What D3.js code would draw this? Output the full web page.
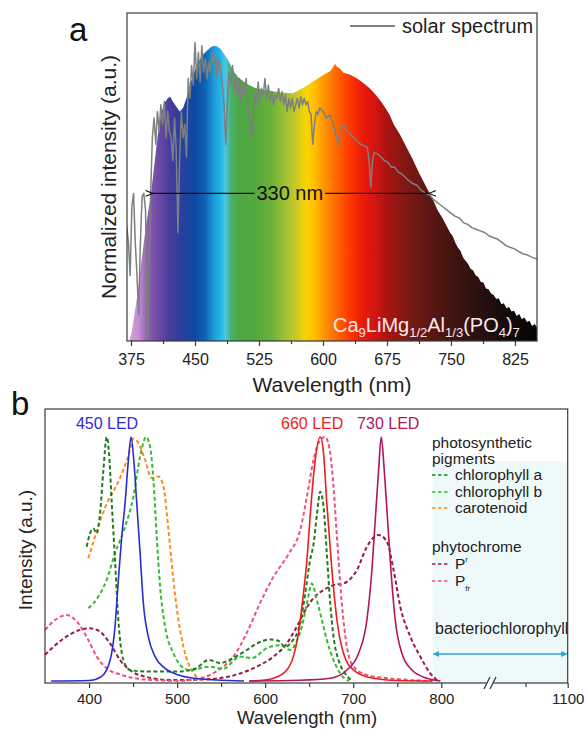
<!DOCTYPE html>
<html><head><meta charset="utf-8">
<script src="https://cdn.jsdelivr.net/npm/d3@7"></script>
<style>
body{margin:0;background:#fff}
svg{display:block}
text{font-family:"Liberation Sans",Arial,Helvetica,sans-serif}
</style>
</head><body>
<svg id="chart" width="587" height="729"></svg>
<script>
// ---------------- Panel a data ----------------
const ticksA = [375,450,525,600,675,750,825];
const minorTicksA = [412.5,487.5,562.5,637.5,712.5,787.5];
// phosphor emission (nm, normalized intensity)
const emission = [[373,0],[376,0.03],[379,0.08],[383,0.15],[388,0.26],[393,0.36],[398,0.44],[402,0.53],[406,0.62],[410,0.69],[414,0.725],[418,0.74],[421,0.745],[424,0.73],[428,0.715],[432,0.70],[436,0.71],[440,0.74],[444,0.78],[448,0.81],[452,0.84],[456,0.86],[460,0.875],[464,0.885],[468,0.895],[472,0.90],[476,0.898],[480,0.89],[484,0.875],[488,0.86],[492,0.84],[496,0.82],[500,0.805],[505,0.795],[510,0.785],[515,0.778],[520,0.772],[530,0.766],[540,0.762],[550,0.758],[560,0.756],[565,0.755],[570,0.762],[577,0.772],[585,0.785],[592,0.797],[600,0.81],[608,0.822],[612,0.835],[614,0.845],[616,0.838],[620,0.83],[624,0.818],[632,0.812],[640,0.80],[648,0.785],[655,0.77],[662,0.75],[668,0.73],[672,0.715],[678,0.69],[683,0.66],[690,0.63],[698,0.59],[705,0.555],[713,0.51],[720,0.475],[729,0.43],[734,0.40],[740,0.375],[743,0.36],[746,0.345],[749,0.33],[752,0.32],[755,0.30],[758,0.285],[761,0.275],[764,0.255],[767,0.245],[770,0.235],[773,0.22],[776,0.215],[779,0.2],[782,0.195],[785,0.18],[788,0.178],[791,0.16],[794,0.158],[797,0.145],[800,0.14],[803,0.128],[806,0.13],[809,0.112],[812,0.115],[815,0.1],[818,0.104],[821,0.09],[824,0.092],[827,0.076],[830,0.082],[833,0.066],[836,0.072],[839,0.058],[842,0.062],[845,0.046],[848,0.052],[851,0.04]];
// solar spectrum (nm, normalized intensity)
const solar = [[370,0.35],[372,0.30],[374,0.20],[376,0.41],[378,0.45],[380,0.30],[382,0.20],[384,0.08],[386,0.30],[388,0.44],[390,0.45],[392,0.40],[394,0.05],[395,0.01],[396,0.20],[398,0.45],[400,0.62],[402,0.68],[404,0.60],[406,0.70],[408,0.64],[410,0.72],[412,0.66],[414,0.73],[416,0.62],[418,0.70],[420,0.64],[422,0.62],[424,0.55],[426,0.68],[428,0.58],[430,0.33],[432,0.55],[434,0.70],[436,0.62],[438,0.66],[440,0.56],[442,0.80],[444,0.74],[446,0.84],[448,0.78],[450,0.91],[452,0.80],[454,0.88],[456,0.79],[458,0.90],[460,0.82],[462,0.86],[464,0.80],[466,0.85],[468,0.82],[470,0.88],[472,0.84],[474,0.87],[476,0.80],[478,0.86],[480,0.83],[482,0.78],[484,0.72],[486,0.60],[488,0.74],[490,0.82],[492,0.78],[494,0.84],[496,0.76],[498,0.81],[500,0.74],[502,0.80],[504,0.72],[506,0.78],[508,0.75],[510,0.80],[512,0.72],[514,0.66],[516,0.62],[518,0.68],[520,0.76],[522,0.72],[524,0.79],[526,0.73],[528,0.77],[530,0.75],[532,0.80],[534,0.74],[536,0.78],[538,0.73],[540,0.76],[542,0.72],[544,0.75],[546,0.74],[548,0.77],[550,0.73],[552,0.76],[554,0.72],[556,0.75],[558,0.70],[560,0.74],[562,0.71],[564,0.74],[566,0.70],[568,0.72],[570,0.74],[572,0.71],[574,0.745],[576,0.72],[578,0.74],[580,0.72],[582,0.73],[584,0.70],[586,0.69],[588,0.60],[590,0.66],[592,0.70],[594,0.69],[596,0.71],[600,0.70],[604,0.68],[608,0.69],[612,0.66],[616,0.62],[618,0.60],[620,0.65],[624,0.66],[628,0.64],[632,0.63],[636,0.62],[640,0.61],[644,0.60],[648,0.595],[652,0.59],[654,0.55],[656,0.47],[658,0.55],[660,0.575],[664,0.57],[668,0.56],[672,0.55],[676,0.545],[680,0.53],[684,0.53],[688,0.515],[692,0.51],[696,0.50],[700,0.49],[705,0.48],[710,0.475],[715,0.46],[720,0.45],[725,0.445],[730,0.43],[735,0.42],[740,0.41],[745,0.40],[750,0.39],[755,0.38],[760,0.375],[765,0.36],[770,0.355],[775,0.345],[780,0.34],[785,0.335],[790,0.33],[795,0.32],[800,0.315],[805,0.31],[810,0.30],[815,0.29],[820,0.285],[825,0.28],[830,0.272],[835,0.265],[840,0.262],[845,0.255],[851,0.25]];
const fwhmNm = [399.5, 725];
const fwhmLevel = 0.45;
// colour of the emission fill along the wavelength axis
const spectrumStops = [[372,'#d8a0dc'],[385,'#c08ad0'],[395,'#8e5cb0'],[408,'#6a4aa6'],[420,'#4a3c9c'],[435,'#283f9e'],[450,'#0c4aa2'],[462,'#1262b4'],[472,'#1e9ad8'],[480,'#22b6ea'],[486,'#52c4e0'],[492,'#48b070'],[500,'#4ca844'],[520,'#52a83e'],[540,'#6eb23a'],[555,'#9cc034'],[568,'#c8c828'],[580,'#fad400'],[590,'#ffc000'],[600,'#ff9800'],[615,'#ff6a00'],[630,'#ff3c00'],[645,'#ee1c0a'],[660,'#d41410'],[675,'#aa1412'],[695,'#821814'],[720,'#621814'],[750,'#421410'],[790,'#241010'],[820,'#120a0a'],[851,'#050505']];

// ---------------- Panel b data ----------------
const ticksB = [400,500,600,700,800,1100];
const minorTicksB = [450,550,650,750,1000];
const led450 = [[357,0],[400,0.002],[414,0.018],[424,0.086],[429.5,0.223],[433.3,0.414],[437.1,0.59],[440.9,0.728],[444.7,0.906],[447.7,1.0],[450.8,0.906],[454.2,0.728],[458,0.523],[461.7,0.318],[467.4,0.18],[475,0.1],[486.4,0.052],[501.5,0.025],[520.5,0.011],[545,0.004],[576,0]];
const led660 = [[582,0],[600,0.004],[609.4,0.011],[624.6,0.045],[632,0.1],[637.8,0.195],[643.5,0.36],[647.4,0.496],[652,0.72],[656.8,0.906],[662.5,1.0],[666.3,0.933],[670,0.728],[675.8,0.455],[681.5,0.25],[689,0.113],[700.4,0.045],[723,0.011],[750,0.002],[790,0]];
const led730 = [[582,0],[640,0.003],[673.9,0.011],[692.8,0.045],[706,0.113],[715.5,0.25],[721.2,0.455],[725,0.66],[728.8,0.865],[731.8,1.0],[735.2,0.865],[739,0.66],[742.8,0.455],[747.7,0.25],[755.3,0.113],[766.7,0.045],[783.7,0.011],[799,0]];
const chlA = [[397.3,0.55],[401.1,0.605],[404.9,0.625],[408.7,0.605],[412.5,0.687],[416.3,0.865],[420.1,1.0],[422.7,0.933],[425.8,0.728],[429.5,0.496],[433.3,0.25],[439,0.086],[446.6,0.045],[463.6,0.039],[501.5,0.039],[520.5,0.05],[535.6,0.086],[549,0.074],[563.6,0.094],[579,0.127],[590.6,0.154],[605.7,0.17],[615,0.165],[622.7,0.14],[630,0.16],[639.8,0.237],[645.5,0.36],[651,0.496],[654.9,0.56],[658.7,0.68],[662.5,0.776],[666.3,0.714],[670,0.523],[673.9,0.318],[677.6,0.182],[683.3,0.086],[690.9,0.031],[698.5,0]];
const chlB = [[399.2,0.298],[410.6,0.346],[420,0.414],[429.5,0.523],[440.9,0.632],[450.4,0.755],[458,0.92],[464.8,1.0],[469.3,0.96],[473.1,0.824],[476.9,0.591],[480.7,0.387],[486.4,0.223],[495.8,0.114],[505.3,0.059],[514.8,0.045],[537.5,0.059],[552,0.05],[571.6,0.1],[585,0.094],[602,0.135],[617,0.147],[628.4,0.127],[637.8,0.18],[641.7,0.223],[647.4,0.318],[653,0.40],[658.7,0.332],[664.4,0.25],[670,0.168],[677.6,0.086],[685.2,0.031],[695,0]];
const carotenoid = [[399.2,0.503],[406.8,0.592],[414.4,0.674],[422,0.742],[429.5,0.79],[439,0.865],[446.6,0.947],[450.4,0.994],[456.1,0.974],[463.6,0.906],[471.2,0.831],[478.8,0.838],[484.5,0.797],[490.2,0.619],[495.8,0.414],[501.5,0.25],[507.2,0.14],[512.9,0.072],[518,0.035],[524,0.012],[530,0]];
const pr = [[350,0.107],[368.9,0.168],[387.9,0.207],[401.1,0.216],[412.5,0.202],[423.9,0.154],[435.2,0.086],[448.5,0.039],[463.6,0.018],[493.9,0.004],[520,0.005],[547,0.011],[571.6,0.031],[590.6,0.059],[609.4,0.1],[624.6,0.154],[636,0.223],[645.5,0.29],[654.9,0.34],[666.3,0.373],[677.6,0.393],[689,0.40],[704.2,0.455],[715.5,0.55],[728.8,0.598],[738.3,0.571],[745.8,0.455],[753.4,0.305],[764.8,0.182],[776.1,0.1],[787.5,0.031],[795,0.004]];
const pfr = [[350,0.209],[361.4,0.25],[374.6,0.27],[387.9,0.236],[399.2,0.168],[408.7,0.1],[420,0.052],[437.1,0.025],[463.6,0.006],[501.5,0.001],[530,0.015],[547,0.045],[564,0.1],[579,0.196],[594.3,0.32],[609.4,0.427],[626.5,0.52],[639.8,0.619],[647.4,0.755],[654.9,0.906],[662.5,0.988],[668.2,1.0],[673.9,0.934],[677.6,0.796],[681.5,0.59],[687,0.32],[692.8,0.14],[700.4,0.059],[715.5,0.025],[738,0.012],[765,0.004],[790,0]];
const bacterioRange = [790, 1100];
const ledLabels = [["450 LED",447.7],["660 LED",662.5],["730 LED",731.8]];

// ---------------- drawing ----------------
const svg = d3.select('#chart');
const defs = svg.append('defs');

// ===== Panel a =====
const xA = d3.scaleLinear().domain([370.3, 850.8]).range([127, 537]);
const yA = d3.scaleLinear().domain([0, 1]).range([341, 13]);

const grad = defs.append('linearGradient').attr('id','rainbow')
  .attr('gradientUnits','userSpaceOnUse')
  .attr('x1', xA(370.3)).attr('x2', xA(850.8)).attr('y1',0).attr('y2',0);
grad.selectAll('stop').data(spectrumStops).join('stop')
  .attr('offset', d => (xA(d[0]) - xA(370.3)) / (xA(850.8) - xA(370.3)))
  .attr('stop-color', d => d[1]);

defs.append('clipPath').attr('id','clipA').append('rect')
  .attr('x', xA.range()[0]).attr('y', yA.range()[1])
  .attr('width', xA.range()[1]-xA.range()[0]).attr('height', yA.range()[0]-yA.range()[1]);

const gPlotA = svg.append('g').attr('clip-path','url(#clipA)');
gPlotA.append('path').datum(emission)
  .attr('d', d3.area().x(d=>xA(d[0])).y0(yA(0)).y1(d=>yA(d[1])))
  .attr('fill','url(#rainbow)');
gPlotA.append('path').datum(solar)
  .attr('d', d3.line().x(d=>xA(d[0])).y(d=>yA(d[1])))
  .attr('fill','none').attr('stroke','#7b8081').attr('stroke-width',1.5).attr('stroke-linejoin','round');

// frame a
svg.append('rect').attr('x',xA.range()[0]).attr('y',yA.range()[1])
  .attr('width', xA.range()[1]-xA.range()[0]).attr('height', yA.range()[0]-yA.range()[1])
  .attr('fill','none').attr('stroke','#3a3a3a').attr('stroke-width',1.2);

const axA = svg.append('g').attr('transform',`translate(0,${yA(0)})`)
  .call(d3.axisBottom(xA).tickValues(ticksA).tickSize(5).tickPadding(8).tickFormat(d3.format('d')));
axA.select('.domain').remove();
axA.selectAll('line').attr('stroke','#3a3a3a').attr('stroke-width',1.2);
axA.selectAll('text').attr('font-size',16).attr('fill','#222');
const axAm = svg.append('g').attr('transform',`translate(0,${yA(0)})`)
  .call(d3.axisBottom(xA).tickValues(minorTicksA).tickSize(3).tickFormat(''));
axAm.select('.domain').remove();
axAm.selectAll('line').attr('stroke','#3a3a3a').attr('stroke-width',1.2);

svg.append('text').attr('x', (xA.range()[0]+xA.range()[1])/2).attr('y',392)
  .attr('text-anchor','middle').attr('font-size',21).attr('fill','#222').text('Wavelength (nm)');
svg.append('text').attr('transform',`translate(116,${(yA.range()[0]+yA.range()[1])/2}) rotate(-90)`)
  .attr('text-anchor','middle').attr('font-size',21).attr('fill','#222').text('Normalized intensity (a.u.)');
svg.append('text').attr('x',69).attr('y',41).attr('font-size',33).attr('fill','#111').text('a');

// legend a
svg.append('line').attr('x1',350).attr('x2',395).attr('y1',26).attr('y2',26)
  .attr('stroke','#7b8081').attr('stroke-width',2);
svg.append('text').attr('x',402).attr('y',33).attr('font-size',20).attr('fill','#222').text('solar spectrum');

// FWHM arrow
defs.append('marker').attr('id','arrK').attr('viewBox','0 0 10 10').attr('refX',1).attr('refY',5)
  .attr('markerWidth',9).attr('markerHeight',7).attr('markerUnits','userSpaceOnUse').attr('orient','auto-start-reverse')
  .append('path').attr('d','M10,1 L0,5 L10,9').attr('fill','none').attr('stroke','#111').attr('stroke-width',1.6);
const yF = yA(fwhmLevel);
const labelF = svg.append('text').attr('x',(xA(fwhmNm[0])+xA(fwhmNm[1]))/2 - 1).attr('y',yF+7)
  .attr('text-anchor','middle').attr('font-size',20).attr('fill','#111').text('330 nm');
const bb = labelF.node().getBBox();
svg.append('line').attr('x1',xA(fwhmNm[0])).attr('x2',bb.x-2).attr('y1',yF).attr('y2',yF)
  .attr('stroke','#111').attr('stroke-width',1.3).attr('marker-start','url(#arrK)');
svg.append('line').attr('x1',bb.x+bb.width+2).attr('x2',xA(fwhmNm[1])).attr('y1',yF).attr('y2',yF)
  .attr('stroke','#111').attr('stroke-width',1.3).attr('marker-end','url(#arrK)');

// formula
const fm = svg.append('text').attr('x',333).attr('y',332).attr('font-size',20).attr('fill','#fbe8ea');
const parts = [['Ca',0],['9',1],['LiMg',0],['1/2',1],['Al',0],['1/3',1],['(PO',0],['4',1],[')',0],['7',1]];
let prevSub = 0;
parts.forEach(([t,s]) => {
  const dy = (s && !prevSub) ? 5 : (!s && prevSub) ? -5 : 0;
  fm.append('tspan').attr('dy',dy).attr('font-size', s?13:20).text(t);
  prevSub = s;
});

// ===== Panel b =====
const xB = d3.scaleLinear().domain([350, 800, 1100]).range([45, 441.3, 567.7]);
const yB = d3.scaleLinear().domain([0, 1]).range([681, 437]);
const topB = 409, botB = 683;

// shaded bacteriochlorophyll region
svg.append('rect').attr('x',xB(bacterioRange[0])).attr('y',461)
  .attr('width',xB(bacterioRange[1])-xB(bacterioRange[0])).attr('height',botB-461)
  .attr('fill','#eefafa');

const lineB = d3.line().x(d=>xB(d[0])).y(d=>yB(d[1])).curve(d3.curveMonotoneX);
const dashed = [
  {data: pr, color:'#9a1a42'},
  {data: pfr, color:'#f2507c'},
  {data: carotenoid, color:'#ff8c1a'},
  {data: chlB, color:'#33bb33'},
  {data: chlA, color:'#1d7d1d'}
];
dashed.forEach(s => {
  svg.append('path').datum(s.data).attr('d', lineB).attr('fill','none')
    .attr('stroke', s.color).attr('stroke-width',2).attr('stroke-dasharray','4,2.6');
});
const solids = [
  {data: led450, color:'#2c2cd2'},
  {data: led660, color:'#f01c1c'},
  {data: led730, color:'#b3145c'}
];
solids.forEach(s => {
  svg.append('path').datum(s.data).attr('d', lineB).attr('fill','none')
    .attr('stroke', s.color).attr('stroke-width',1.6);
});

// frame b
svg.append('rect').attr('x',xB.range()[0]).attr('y',topB)
  .attr('width', xB(1100)-xB(350)).attr('height', botB-topB)
  .attr('fill','none').attr('stroke','#3a3a3a').attr('stroke-width',1.2);

const axB = svg.append('g').attr('transform',`translate(0,${botB})`)
  .call(d3.axisBottom(xB).tickValues(ticksB).tickSize(5).tickPadding(5).tickFormat(d3.format('d')));
axB.select('.domain').remove();
axB.selectAll('line').attr('stroke','#3a3a3a').attr('stroke-width',1.2);
axB.selectAll('text').attr('font-size',15).attr('fill','#222');
const axBm = svg.append('g').attr('transform',`translate(0,${botB})`)
  .call(d3.axisBottom(xB).tickValues(minorTicksB).tickSize(4).tickFormat(''));
axBm.select('.domain').remove();
axBm.selectAll('line').attr('stroke','#3a3a3a').attr('stroke-width',1.2);

// axis break
svg.append('rect').attr('x',486.5).attr('y',botB-2).attr('width',7).attr('height',4).attr('fill','#fff');
[484, 490].forEach(x0 => {
  svg.append('line').attr('x1',x0).attr('y1',botB+6).attr('x2',x0+6).attr('y2',botB-6)
    .attr('stroke','#333').attr('stroke-width',1.3);
});

svg.append('text').attr('x',307).attr('y',723.5).attr('text-anchor','middle')
  .attr('font-size',18.5).attr('fill','#222').text('Wavelength (nm)');
svg.append('text').attr('transform',`translate(32,550) rotate(-90)`).attr('text-anchor','middle')
  .attr('font-size',19).attr('fill','#222').text('Intensity (a.u.)');
svg.append('text').attr('x',11).attr('y',415).attr('font-size',33).attr('fill','#111').text('b');

// LED labels
const ledColors = ['#2c2cd2','#f01c1c','#b3145c'];
svg.selectAll('text.led').data(ledLabels).join('text').attr('class','led')
  .attr('x', (d,i) => xB(d[1]) + (i===0? -24 : i===1 ? -8 : 7)).attr('y',429)
  .attr('text-anchor','middle').attr('font-size',16)
  .attr('fill',(d,i)=>ledColors[i]).text(d=>d[0]);

// legend b
const lgX = 432, txX = 455;
svg.append('text').attr('x',lgX).attr('y',448).attr('font-size',15.5).attr('fill','#222').text('photosynthetic');
svg.append('text').attr('x',lgX).attr('y',464).attr('font-size',15.5).attr('fill','#222').text('pigments');
svg.append('text').attr('x',lgX).attr('y',552).attr('font-size',15.5).attr('fill','#222').text('phytochrome');
const legendItems = [
  {y:480, color:'#1d7d1d', label:'chlorophyll a'},
  {y:497, color:'#33bb33', label:'chlorophyll b'},
  {y:513, color:'#ff8c1a', label:'carotenoid'},
  {y:569, color:'#c0183f', label:'P', sub:'r', up:true},
  {y:586, color:'#f2507c', label:'P', sub:'fr', up:false}
];
legendItems.forEach(it => {
  svg.append('line').attr('x1',lgX).attr('x2',lgX+18).attr('y1',it.y-5).attr('y2',it.y-5)
    .attr('stroke',it.color).attr('stroke-width',1.6).attr('stroke-dasharray','3.5,2.5');
  const t = svg.append('text').attr('x',txX).attr('y',it.y).attr('font-size',15.5).attr('fill','#222');
  t.append('tspan').text(it.label);
  if (it.sub) t.append('tspan').attr('font-size',8).attr('dy', it.up ? -7 : 5).text(it.sub);
});

// bacteriochlorophyll
svg.append('text').attr('x',435).attr('y',634).attr('font-size',16).attr('fill','#222').text('bacteriochlorophyll');
defs.append('marker').attr('id','arrC').attr('viewBox','0 0 10 10').attr('refX',9).attr('refY',5)
  .attr('markerWidth',7).attr('markerHeight',6).attr('markerUnits','userSpaceOnUse').attr('orient','auto-start-reverse')
  .append('path').attr('d','M0,0 L10,5 L0,10 z').attr('fill','#2aa6d2');
svg.append('line').attr('x1',xB(bacterioRange[0])+1).attr('x2',xB(bacterioRange[1])-1).attr('y1',654).attr('y2',654)
  .attr('stroke','#2aa6d2').attr('stroke-width',1.6)
  .attr('marker-start','url(#arrC)').attr('marker-end','url(#arrC)');
</script>
</body></html>
